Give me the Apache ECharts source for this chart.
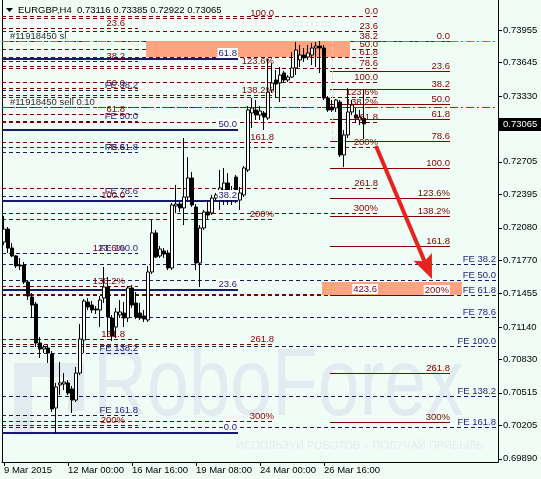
<!DOCTYPE html>
<html><head><meta charset="utf-8">
<script src="https://cdn.jsdelivr.net/npm/echarts/dist/echarts.min.js"></script>
<style>html,body{margin:0;padding:0;background:#f0fdf6}#c{width:541px;height:479px}</style>
</head><body><div id="c"></div>
<script>
// ---------------- DATA ----------------
const symbolName = 'EURGBP,H4';
const tickLabels = ['9 Mar 2015','12 Mar 00:00','16 Mar 16:00','19 Mar 08:00','24 Mar 00:00','26 Mar 16:00'];
const barsPerTick = 16;
const totalSlots = 124; // bars + empty future space
const priceTicks = [0.73955,0.73645,0.73330,0.73020,0.72705,0.72395,0.72080,0.71770,0.71455,0.71140,0.70830,0.70515,0.70205,0.69890];
const priceMin = 0.698596, priceMax = 0.742394;
// [open, close, low, high]
const candles = [
[0.71945,0.72068,0.71917,0.72192],[0.72068,0.71888,0.71841,0.72087],[0.71888,0.71813,0.71803,0.71936],
[0.71813,0.71718,0.71699,0.71822],[0.71727,0.71718,0.71680,0.71794],[0.71727,0.71566,0.71547,0.71756],
[0.71566,0.71433,0.71395,0.71585],[0.71424,0.71348,0.71225,0.71462],[0.71357,0.70988,0.70950,0.71376],
[0.70988,0.70931,0.70846,0.71045],[0.70931,0.70950,0.70893,0.70969],[0.70940,0.70893,0.70798,0.70969],
[0.70883,0.70362,0.70334,0.70912],[0.70372,0.70571,0.70135,0.70609],[0.70590,0.70609,0.70495,0.70808],
[0.70599,0.70618,0.70542,0.70703],[0.70609,0.70514,0.70495,0.70637],[0.70552,0.70447,0.70324,0.70580],
[0.70447,0.70703,0.70428,0.70760],[0.70703,0.71026,0.70684,0.71168],[0.71016,0.71386,0.70893,0.71405],
[0.71376,0.71329,0.71301,0.71414],[0.71348,0.71301,0.71272,0.71386],[0.71310,0.71301,0.71263,0.71339],
[0.71301,0.71395,0.71139,0.71433],[0.71414,0.71519,0.71367,0.71708],[0.71519,0.71234,0.71045,0.71613],
[0.71225,0.71054,0.71007,0.71253],[0.71139,0.71282,0.71035,0.71320],[0.71253,0.71282,0.71225,0.71395],
[0.71272,0.71225,0.71139,0.71376],[0.71225,0.71509,0.71187,0.71528],[0.71509,0.71348,0.71320,0.71538],
[0.71367,0.71234,0.71215,0.71471],[0.71272,0.71225,0.71206,0.71367],[0.71244,0.71215,0.71187,0.71301],
[0.71206,0.71661,0.71187,0.71718],[0.71661,0.72031,0.71642,0.72154],[0.72031,0.71803,0.71794,0.72059],
[0.71813,0.71879,0.71794,0.71907],[0.71860,0.71831,0.71794,0.71888],[0.71841,0.71699,0.71680,0.71869],
[0.71699,0.72296,0.71680,0.72315],[0.72287,0.72305,0.72220,0.72486],[0.72305,0.72268,0.72230,0.72324],
[0.72268,0.72372,0.72106,0.72931],[0.72372,0.72552,0.72343,0.72751],[0.72552,0.72296,0.72277,0.72609],
[0.72277,0.71746,0.71680,0.72305],[0.71746,0.72078,0.71519,0.72106],[0.72078,0.72230,0.72059,0.72249],
[0.72230,0.72201,0.72154,0.72343],[0.72220,0.72362,0.72201,0.72391],[0.72362,0.72391,0.72343,0.72410],
[0.72391,0.72457,0.72249,0.72628],[0.72438,0.72505,0.72296,0.72647],[0.72505,0.72362,0.72296,0.72599],
[0.72410,0.72353,0.72296,0.72476],[0.72561,0.72372,0.72315,0.72580],[0.72343,0.72410,0.72249,0.72467],
[0.72391,0.72647,0.72372,0.72666],[0.72628,0.73197,0.72609,0.73235],[0.73168,0.73216,0.73026,0.73310],
[0.73197,0.73149,0.73102,0.73291],[0.73149,0.73187,0.73102,0.73235],[0.73168,0.73130,0.73007,0.73187],
[0.73121,0.73367,0.73102,0.73680],[0.73386,0.73453,0.73358,0.73642],[0.73481,0.73443,0.73310,0.73576],
[0.73453,0.73528,0.73272,0.73604],[0.73547,0.73481,0.73453,0.73566],[0.73481,0.73509,0.73462,0.73528],
[0.73509,0.73595,0.73500,0.73746],[0.73595,0.73765,0.73528,0.73841],[0.73671,0.73718,0.73604,0.73813],
[0.73718,0.73690,0.73652,0.73784],[0.73699,0.73737,0.73671,0.73813],[0.73718,0.73784,0.73623,0.73832],
[0.73784,0.73803,0.73604,0.73841],[0.73803,0.73784,0.73547,0.73851],[0.73784,0.73310,0.73291,0.73813],
[0.73310,0.73197,0.73178,0.73329],[0.73225,0.73197,0.73178,0.73291],[0.73216,0.73291,0.73178,0.73301],
[0.73272,0.72770,0.72751,0.73291],[0.72770,0.72960,0.72656,0.73007],[0.72960,0.73178,0.72931,0.73405],
[0.73178,0.73244,0.73149,0.73291],[0.73149,0.73121,0.73073,0.73216],[0.73102,0.73130,0.73054,0.73197],
[0.73116,0.73065,0.72922,0.73385]
];
// Fibonacci tools: anchor = [price at 0%, price at 100%]
const fibUpperLevels = [100,123.6,138.2,161.8,200,261.8,300];
const fibUpperLabels = ['100.0','123.6%','138.2%','161.8','200%','261.8','300%'];
const fibUpperAnchor = [0.75979,0.74069];
const fibMidLevels = [0,23.6,38.2,50,61.8,78.6,100,123.6,138.2,161.8,200,261.8,300,423.6];
const fibMidLabels = ['0.0','23.6','38.2','50.0','61.8','78.6','100.0','123.6%','138.2%','161.8','200%','261.8','300%','423.6'];
const fibMidAnchor = [0.74088,0.73466];
const fibLeftLevels = [23.6,38.2,50,61.8,78.6,100,123.6,138.2,161.8,200];
const fibLeftLabels = ['23.6','38.2','50.0','61.8','78.6','100.0','123.6%','138.2%','161.8','200%'];
const fibLeftAnchor = [0.74476,0.72343];
const fibRightLevels = [0,23.6,38.2,50,61.8,78.6,100,123.6,138.2,161.8,200,261.8,300];
const fibRightLabels = ['0.0','23.6','38.2','50.0','61.8','78.6','100.0','123.6%','138.2%','161.8','200%','261.8','300%'];
const fibRightAnchor = [0.73851,0.72647];
const fibNavyLevels = [0,23.6,38.2,50,61.8];
const fibNavyLabels = ['0.0','23.6','38.2','50.0','61.8'];
const fibNavyAnchor = [0.70135,0.75879];
const feLevels = [38.2,50,61.8,78.6,100,138.2,161.8];
const feLabels = ['FE 38.2','FE 50.0','FE 61.8','FE 78.6','FE 100.0','FE 138.2','FE 161.8'];
const feLeftAnchor = [0.74334,0.71844];
const feRightAnchor = [0.72209,0.70964];
// order lines
const orderPrices = [0.73846,0.73222];
const orderLabels = ['#11918450 sl','#11918450 sell 0.10'];
// zones [fromBar, priceTop, toBar, priceBottom]
const zones = [[36,0.73851,86,0.73700],[80,0.71566,114,0.71443]];
// arrow [fromBar, fromPrice, toBar, toPrice]
const arrowPath = [[93,0.72855,107,0.71594]];
// trade marker [bar, priceTop, bar, priceBottom]
const tradeMarker = [[82,0.73851,82,0.72912]];

// ---------------- STYLE ----------------
const FONT = "'Liberation Sans', Arial, sans-serif";
const FS = 9.5;
const DARKRED = '#800000', NAVY = '#191970', FETXT = '#23237f';
const groupDefs = [
  {levels:fibUpperLevels, labels:fibUpperLabels, anchor:fibUpperAnchor, st:{from:0,to:67,labelTo:67,dx:0,color:DARKRED,width:1,dash:[4,3],text:DARKRED,box:[]}},
  {levels:fibMidLevels, labels:fibMidLabels, anchor:fibMidAnchor, st:{from:0,to:93,labelTo:93,dx:0,color:DARKRED,width:1,dash:[4,3],text:DARKRED,box:[423.6]}},
  {levels:fibLeftLevels, labels:fibLeftLabels, anchor:fibLeftAnchor, st:{from:0,to:33,labelTo:30,dx:-1,color:DARKRED,width:1,dash:[4,3],text:DARKRED,box:[]}},
  {levels:fibRightLevels, labels:fibRightLabels, anchor:fibRightAnchor, st:{from:82,to:111,labelTo:111,dx:0,color:DARKRED,width:1,dash:null,text:DARKRED,box:[200]}},
  {levels:fibNavyLevels, labels:fibNavyLabels, anchor:fibNavyAnchor, st:{from:0,to:58,labelTo:58,dx:0,color:NAVY,width:2,dash:null,text:NAVY,box:'all'}},
  {levels:feLevels, labels:feLabels, anchor:feLeftAnchor, st:{from:0,to:33,labelTo:33,dx:0,color:NAVY,width:1,dash:[4,3],text:FETXT,box:[]}},
  {levels:feLevels, labels:feLabels, anchor:feRightAnchor, st:{from:0,to:123,labelTo:123,dx:-2,color:NAVY,width:1,dash:[4,3],text:FETXT,box:[]}}
];

const series = [];
function lineSeries(items, st, z){
  return {type:'custom', z:z, silent:true, animation:false,
    data: items.map(it=>[st.from, it.price, st.to]), encode:{x:[0,2], y:1},
    renderItem:(params, api)=>{
      const p = api.value(1);
      const a = api.coord([api.value(0), p]), b = api.coord([api.value(2), p]);
      const half = api.size([1,0])[0]/2;
      const y = st.width % 2 ? Math.round(a[1]) + 0.5 : Math.round(a[1]);
      return {type:'line', shape:{x1:a[0]-half, y1:y, x2:b[0]+half, y2:y},
        style:{stroke:st.color, lineWidth:st.width, lineDash:st.dash || null}};
    }};
}
function labelSeries(items, st, z){
  return {type:'custom', z:z, silent:true, animation:false,
    data: items.map(it=>[st.labelTo, it.price]), encode:{x:0, y:1},
    renderItem:(params, api)=>{
      const it = items[params.dataIndex];
      const a = api.coord([api.value(0), api.value(1)]);
      const half = api.size([1,0])[0]/2;
      const boxed = st.box === 'all' || st.box.indexOf(it.level) >= 0;
      return {type:'text', x:a[0]+half+st.dx, y:Math.round(a[1]) - (st.width>1?1:0),
        style:{text:it.label, fill:st.text, font:FS+'px '+FONT, align:'right', verticalAlign:'bottom',
          backgroundColor: boxed ? '#ffffff' : null, padding: boxed ? [0,1,0,1] : 0}};
    }};
}
const labelGroups = [];
groupDefs.forEach(g=>{
  const items = g.levels.map((lv,i)=>({level:lv, label:g.labels[i], price:g.anchor[0]-(g.anchor[0]-g.anchor[1])*lv/100}));
  series.push(lineSeries(items, g.st, 1));
  labelGroups.push(labelSeries(items, g.st, 5));
});
// order lines
const orderItems = orderPrices.map((p,i)=>({price:p, label:orderLabels[i], level:i}));
const orderColors = ['#f0501e','#008000'];
series.push({type:'custom', z:1, silent:true, animation:false,
  data: orderItems.map(it=>[0, it.price, totalSlots-1]), encode:{x:[0,2], y:1},
  renderItem:(params, api)=>{
    const p = api.value(1);
    const a = api.coord([api.value(0), p]), b = api.coord([api.value(2), p]);
    const half = api.size([1,0])[0]/2;
    const y = Math.round(a[1]) + 0.5;
    return {type:'line', shape:{x1:a[0]-half, y1:y, x2:b[0]+half, y2:y},
      style:{stroke:orderColors[params.dataIndex], lineWidth:1, lineDash:[8,3,2,3]}};
  }});
labelGroups.push({type:'custom', z:5, silent:true, animation:false,
  data: orderItems.map(it=>[2, it.price]), encode:{x:0, y:1},
  renderItem:(params, api)=>{
    const a = api.coord([api.value(0), api.value(1)]);
    const half = api.size([1,0])[0]/2;
    return {type:'text', x:a[0]-half, y:Math.round(a[1]),
      style:{text:orderItems[params.dataIndex].label, fill:'#303030', font:FS+'px '+FONT, align:'left', verticalAlign:'bottom'}};
  }});
// zones
series.push({type:'custom', z:2, silent:true, animation:false, data:zones, encode:{x:[0,2], y:[1,3]},
  renderItem:(params, api)=>{
    const a = api.coord([api.value(0), api.value(1)]), b = api.coord([api.value(2), api.value(3)]);
    const half = api.size([1,0])[0]/2;
    return {type:'rect', shape:{x:a[0]-half, y:Math.round(a[1]), width:b[0]-a[0]+2*half, height:Math.round(b[1])-Math.round(a[1])},
      style:{fill:'#ffa47f'}};
  }});
// trade marker
series.push({type:'custom', z:2, silent:true, animation:false, data:tradeMarker, encode:{x:[0,2], y:[1,3]},
  renderItem:(params, api)=>{
    const a = api.coord([api.value(0), api.value(1)]), b = api.coord([api.value(2), api.value(3)]);
    const x = Math.round(a[0]) + 0.5;
    return {type:'line', shape:{x1:x, y1:a[1], x2:x, y2:b[1]}, style:{stroke:'#f7cfae', lineWidth:1, lineDash:[3,3]}};
  }});
// candles
series.push({type:'candlestick', z:3, silent:true, animation:false, data:candles, barWidth:3,
  itemStyle:{color:'#ffffff', color0:'#000000', borderColor:'#000000', borderColor0:'#000000', borderWidth:1}});
labelGroups.forEach(s=>series.push(s));
// arrow
series.push({type:'custom', z:6, silent:true, animation:false, data:arrowPath, encode:{x:[0,2], y:[1,3]},
  renderItem:(params, api)=>{
    const s = api.coord([api.value(0), api.value(1)]), e = api.coord([api.value(2), api.value(3)]);
    const dx = e[0]-s[0], dy = e[1]-s[1], L = Math.sqrt(dx*dx+dy*dy);
    const ux = dx/L, uy = dy/L, px = -uy, py = ux;
    const hl = 24, hw = 10;
    const bx = e[0]-ux*hl, by = e[1]-uy*hl;
    const nx = e[0]-ux*hl*0.8, ny = e[1]-uy*hl*0.8;
    return {type:'group', children:[
      {type:'line', shape:{x1:s[0], y1:s[1], x2:nx, y2:ny}, style:{stroke:'#e8231f', lineWidth:4}},
      {type:'polygon', shape:{points:[[e[0],e[1]],[bx+px*hw,by+py*hw],[nx,ny],[bx-px*hw,by-py*hw]]}, style:{fill:'#e8231f'}}
    ]};
  }});
// last price tag
series.push({type:'custom', z:7, silent:true, animation:false,
  data:[[totalSlots-1, candles[candles.length-1][1]]], encode:{x:0, y:1},
  renderItem:(params, api)=>{
    const a = api.coord([api.value(0), api.value(1)]);
    const half = api.size([1,0])[0]/2;
    const x = Math.round(a[0]+half) + 1, y = Math.round(a[1]);
    return {type:'group', children:[
      {type:'rect', shape:{x:x, y:y-6, width:45, height:13}, style:{fill:'#000'}},
      {type:'text', x:x+4, y:y+0.5, style:{text:api.value(1).toFixed(5), fill:'#fff', font:FS+'px '+FONT, align:'left', verticalAlign:'middle'}}
    ]};
  }});

const categories = Array.from({length: totalSlots}, (_, i) => String(i));
const isTick = (i) => i % barsPerTick === 0 && (i / barsPerTick) < tickLabels.length;
const last = candles[candles.length-1];

const chart = echarts.init(document.getElementById('c'), null, {renderer:'canvas'});
chart.setOption({
  backgroundColor:'#f0fdf6',
  animation:false,
  grid:{left:2, right:43, top:0, bottom:17},
  xAxis:{type:'category', data:categories, boundaryGap:true,
    axisLine:{show:true, lineStyle:{color:'#000', width:1}},
    axisTick:{show:true, alignWithLabel:true, length:4, interval:(i)=>isTick(i), lineStyle:{color:'#000'}},
    axisLabel:{interval:(i)=>isTick(i), formatter:(v,i)=> isTick(i) ? tickLabels[i/barsPerTick] : '',
      align:'left', margin:3, color:'#000', fontSize:FS, fontFamily:FONT},
    splitLine:{show:false}},
  yAxis:[
    {type:'value', position:'right', min:priceMin, max:priceMax, splitLine:{show:false},
      axisLine:{show:true, lineStyle:{color:'#000'}},
      axisTick:{show:true, length:4, customValues:priceTicks, lineStyle:{color:'#000'}},
      axisLabel:{customValues:priceTicks, formatter:(v)=>v.toFixed(5), color:'#000', fontSize:FS, fontFamily:FONT, margin:5}},
    {type:'value', position:'left', min:priceMin, max:priceMax, splitLine:{show:false},
      axisLine:{show:true, onZero:false, lineStyle:{color:'#000'}}, axisTick:{show:false}, axisLabel:{show:false}}
  ],
  graphic:[
    {type:'rect', z:-1, shape:{x:14, y:363, width:18, height:72}, style:{fill:'#e2ebef'}},
    {type:'rect', z:-1, shape:{x:14, y:363, width:70, height:14}, style:{fill:'#e2ebef'}},
    {type:'rect', z:-1, shape:{x:68, y:363, width:16, height:48}, style:{fill:'#e2ebef'}},
    {type:'text', z:-1, x:93, y:437, scaleX:0.78, style:{text:'RoboForex', fill:'#e2ebef', font:'96px '+FONT, textVerticalAlign:'bottom', verticalAlign:'bottom'}},
    {type:'text', z:-1, x:236, y:446, style:{text:'ИСПОЛЬЗУЙ РОБОТОВ – ПОЛУЧАЙ ПРИБЫЛЬ', fill:'#e4ecef', font:'11px '+FONT, verticalAlign:'middle'}},
    {type:'polygon', z:100, shape:{points:[[6,8],[13,8],[9.5,12]]}, style:{fill:'#000'}},
    {type:'text', z:100, x:18, y:10, style:{text:symbolName+'  '+[last[0],last[3],last[2],last[1]].map(v=>v.toFixed(5)).join(' '), fill:'#000', font:FS+'px '+FONT, verticalAlign:'middle'}}
  ],
  series: series
});
</script>
</body></html>
